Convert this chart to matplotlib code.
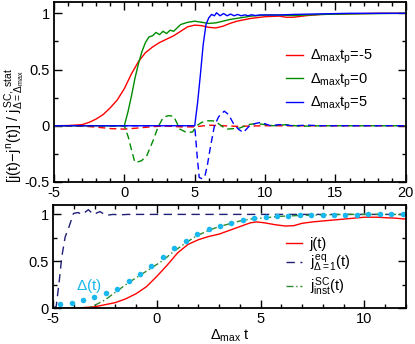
import numpy as np
import matplotlib
matplotlib.use("Agg")
import matplotlib.pyplot as plt
from matplotlib.ticker import MultipleLocator

plt.rcParams["font.family"] = ["Liberation Sans", "DejaVu Sans"]
plt.rcParams["mathtext.fontset"] = "custom"
plt.rcParams["mathtext.rm"] = "Liberation Sans"
plt.rcParams["mathtext.it"] = "Liberation Sans"
plt.rcParams["mathtext.bf"] = "Liberation Sans:bold"

# --- top panel: j(t) and j(t)-j^n(t) for three pulse times
t_red = [-5, -4, -3, -2.5, -2, -1.5, -1, -0.5, 0, 0.5, 1, 1.5, 2, 2.5, 3, 3.5, 4, 4.5,
         5, 5.5, 6, 6.5, 7, 7.5, 8, 9, 10, 11, 11.5, 12, 13, 14, 16, 18, 20]
j_red = [0, 0.002, 0.01, 0.03, 0.06, 0.1, 0.16, 0.23, 0.33, 0.46, 0.57, 0.65, 0.70, 0.74,
         0.77, 0.80, 0.84, 0.88, 0.895, 0.89, 0.875, 0.87, 0.885, 0.91, 0.93, 0.955, 0.97,
         0.975, 0.965, 0.965, 0.98, 0.99, 0.995, 1.0, 1.0]

t_green = [-5, 0, 0.25, 0.5, 0.75, 1, 1.25, 1.5, 1.75, 2, 2.25, 2.5, 2.75, 3, 3.25, 3.5,
           3.75, 4, 4.5, 5, 5.5, 6, 6.5, 7, 7.5, 8, 9, 10, 11, 12, 14, 16, 20]
j_green = [0, 0, 0.12, 0.26, 0.42, 0.55, 0.66, 0.74, 0.79, 0.80, 0.83, 0.81, 0.84, 0.82,
           0.85, 0.84, 0.87, 0.90, 0.92, 0.93, 0.92, 0.91, 0.915, 0.93, 0.945, 0.955, 0.975,
           0.985, 0.985, 0.98, 0.99, 0.995, 1.0]

t_blue = [-5, 5, 5.2, 5.4, 5.6, 5.8, 6.0, 6.2, 6.4, 6.55, 6.8, 7.05, 7.3, 7.55, 7.8, 8.05,
          8.3, 8.55, 8.8, 9.05, 9.3, 9.6, 10, 11, 12, 14, 16, 20]
j_blue = [0, 0, 0.2, 0.45, 0.72, 0.9, 0.96, 0.99, 0.978, 1.005, 0.978, 0.998, 0.978, 0.993,
          0.978, 0.99, 0.978, 0.986, 0.979, 0.987, 0.98, 0.985, 0.985, 0.985, 0.99, 0.995,
          1.0, 1.0]

t_red_d = [-5, -3, -2, -1, 0, 1, 2, 3, 4, 5, 6, 7, 8, 10, 20]
d_red = [0, -0.003, -0.012, -0.025, -0.03, -0.02, -0.008, -0.002, -0.01, -0.01, 0.005,
         0.0, -0.005, 0.0, 0]

t_green_d = [-5, 0, 0.28, 0.52, 0.75, 1.0, 1.23, 1.58, 2.05, 2.4, 2.76, 3.12, 3.5, 3.95,
             4.42, 4.85, 5.13, 5.5, 5.84, 6.3, 6.67, 7.0, 7.3, 7.8, 8.2, 8.8, 9.4, 10, 10.6,
             11.5, 12.5, 14, 20]
d_green = [0, 0, -0.1, -0.22, -0.325, -0.32, -0.31, -0.27, -0.13, -0.01, 0.074, 0.09,
           0.085, -0.03, -0.06, -0.055, 0.0, 0.03, 0.044, 0.044, 0.02, -0.01, -0.03,
           -0.025, -0.02, 0.01, 0.02, 0.01, 0.0, 0.01, -0.005, 0.0, 0]

t_blue_d = [-5, 5, 5.18, 5.32, 5.5, 5.72, 5.9, 6.1, 6.4, 6.7, 7.1, 7.4, 7.75, 8.1, 8.45,
            8.9, 9.3, 9.7, 10.4, 11, 12, 13, 14, 20]
d_blue = [0, 0, -0.28, -0.46, -0.47, -0.45, -0.35, -0.2, 0.0, 0.08, 0.13, 0.1, 0.02, -0.03,
          -0.06, 0.0, 0.02, 0.03, 0.0, 0.01, 0.0, 0.005, 0, 0]

top_labels = [r"$\Delta_{\rm max}t_{\rm p}$=-5", r"$\Delta_{\rm max}t_{\rm p}$=0",
              r"$\Delta_{\rm max}t_{\rm p}$=5"]

# --- bottom panel
t_j = [-5, -4, -3, -2, -1.5, -1, -0.5, 0, 0.5, 1, 1.5, 2, 2.5, 3, 3.5, 4, 4.5, 4.8, 5.2,
       5.7, 6.2, 6.6, 7, 7.5, 8, 8.5, 9, 9.5, 10, 10.6, 11, 11.5, 12]
j_t = [0, 0.0, 0.015, 0.06, 0.1, 0.155, 0.23, 0.34, 0.46, 0.59, 0.68, 0.73, 0.765, 0.79,
       0.83, 0.87, 0.91, 0.92, 0.91, 0.89, 0.876, 0.88, 0.905, 0.92, 0.93, 0.94, 0.95,
       0.96, 0.97, 0.97, 0.965, 0.96, 0.95]

t_eq = [-5, -4.85, -4.7, -4.58, -4.42, -4.26, -4.02, -3.8, -3.6, -3.3, -3.06, -2.74,
        -2.45, -2.1, -1.8, -1.4, -1, 0, 12]
j_eq = [0, 0.02, 0.3, 0.55, 0.76, 0.85, 1.01, 1.02, 1.0, 1.05, 1.0, 1.03, 0.99, 1.0,
        0.995, 1.0, 1.0, 1.0, 1.0]

t_inst = [-5, -3.4, -3.06, -2.5, -1.94, -1.38, -0.82, -0.26, 0.3, 0.78, 1.35, 1.9, 2.5,
          3.0, 3.5, 4.0, 4.5, 5.0, 5.5, 6, 7, 8, 9, 12]
j_inst = [0, 0, 0.024, 0.088, 0.18, 0.27, 0.35, 0.43, 0.51, 0.6, 0.69, 0.77, 0.83, 0.87,
          0.9, 0.93, 0.95, 0.96, 0.97, 0.98, 0.99, 0.995, 1.0, 1.0]

t_gap = [-4.66, -4.11, -3.56, -3.01, -2.46, -1.91, -1.36, -0.81, -0.26, 0.29, 0.84, 1.39,
         1.94, 2.49, 3.04, 3.59, 4.14, 4.69, 5.24, 5.79, 6.34, 6.89, 7.44, 7.99, 8.54,
         9.09, 9.64, 10.19, 10.74, 11.29, 11.84]
gap = [0.043, 0.053, 0.088, 0.117, 0.16, 0.21, 0.29, 0.37, 0.45, 0.55, 0.64, 0.72, 0.79,
       0.84, 0.88, 0.91, 0.94, 0.957, 0.975, 0.98, 0.985, 0.99, 0.993, 0.995, 0.997,
       0.998, 0.998, 0.999, 0.999, 1.0, 1.0]

# ---

fig = plt.figure(figsize=(4.15, 3.44), dpi=100)
ax1 = fig.add_axes([0.130, 0.471, 0.848, 0.523])
ax2 = fig.add_axes([0.128, 0.104, 0.850, 0.300])

lw = 1.0
ax1.plot(t_red, j_red, color="#ff0000", lw=lw, label=top_labels[0])
ax1.plot(t_green, j_green, color="#008c00", lw=lw, label=top_labels[1])
ax1.plot(t_blue, j_blue, color="#0000ff", lw=lw, label=top_labels[2])
ax1.plot(t_red_d, d_red, color="#ff0000", lw=lw, ls=(0, (5, 3)))
ax1.plot(t_green_d, d_green, color="#008c00", lw=lw, ls=(0, (5, 3)))
ax1.plot(t_blue_d, d_blue, color="#0000ff", lw=lw, ls=(0, (5, 3)))

ax1.set_xlim(-5, 20)
ax1.set_ylim(-0.5, 1.1)
ax1.set_xticks([-5, 0, 5, 10, 15, 20])
ax1.set_xticklabels(["-5", "0", "5", "10", "15", "20"])
ax1.set_yticks([-0.5, 0, 0.5, 1])
ax1.set_yticklabels(["-0.5", "0", "0.5", "1"])
ax1.xaxis.set_minor_locator(MultipleLocator(1))
ax1.yaxis.set_minor_locator(MultipleLocator(0.25))
ax1.legend(loc="upper left", bbox_to_anchor=(0.64, 0.785), frameon=False, fontsize=10.5,
           handlelength=1.1, handletextpad=0.5, labelspacing=0.35, borderpad=0)

ax2.plot(t_j, j_t, color="#ff0000", lw=lw, label="j(t)")
ax2.plot(t_eq, j_eq, color="#1f1f78", lw=lw, ls=(0, (6, 4)),
         label=r"$j^{\rm eq}_{\Delta=1}(t)$")
ax2.plot(t_inst, j_inst, color="#2e8b2e", lw=lw, ls=(0, (5, 2, 1, 2)),
         label=r"$j^{\rm SC}_{\rm inst}(t)$")
ax2.plot(t_gap, gap, ls="none", marker="o", ms=4, color="#19b8ee", mec="none")
ax2.text(-3.3, 0.24, r"$\Delta$(t)", color="#19b8ee", fontsize=11, ha="center", va="center")

ax2.set_xlim(-5, 12)
ax2.set_ylim(0, 1.1)
ax2.set_xticks([-5, 0, 5, 10])
ax2.set_xticklabels(["-5", "0", "5", "10"])
ax2.set_yticks([0, 0.5, 1])
ax2.set_yticklabels(["0", "0.5", "1"])
ax2.xaxis.set_minor_locator(MultipleLocator(1))
ax2.yaxis.set_minor_locator(MultipleLocator(0.25))
ax2.set_xlabel(r"$\Delta_{\rm max}$ t", fontsize=10.5, labelpad=1)
ax2.legend(loc="upper left", bbox_to_anchor=(0.64, 0.76), frameon=False, fontsize=10.5,
           handlelength=1.1, handletextpad=0.5, labelspacing=0.1, borderpad=0)

for ax in (ax1, ax2):
    for s in ax.spines.values():
        s.set_linewidth(1.3)
    ax.tick_params(which="both", direction="in", top=True, right=True, labelsize=10.5)
    ax.tick_params(which="major", length=6, width=1.0, pad=3)
    ax.tick_params(which="minor", length=3, width=1.0)

fig.text(0.035, 0.635,
         r"$[j(t)\!-\!j^{n}(t)]\ /\ j^{\rm SC,\ stat}_{\Delta=\Delta_{\rm max}}$",
         rotation=90, ha="center", va="center", fontsize=10.5)

fig.savefig("out.png", dpi=100)
